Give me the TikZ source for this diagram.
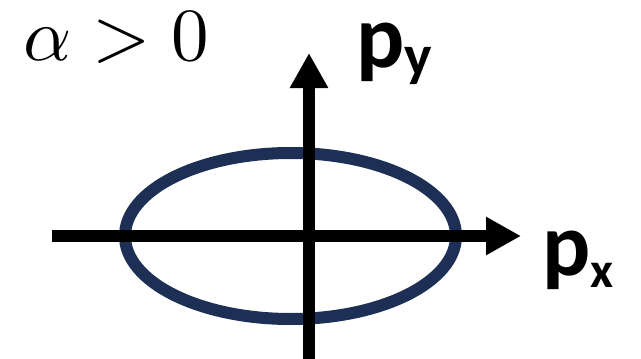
\documentclass[tikz,border=0pt]{standalone}
\usepackage{fontspec}
\newfontfamily\labelfont{Carlito}
\usetikzlibrary{arrows.meta}
\definecolor{navy}{RGB}{29,47,84}

\begin{document}
\begin{tikzpicture}[x=1pt,y=-1pt,
  axis/.style={line width=12pt,-{Triangle[length=35pt,width=36pt]}},
  lbl/.style={inner sep=0pt,anchor=base west}]
\useasboundingbox (0,0) rectangle (641,359);
\coordinate (xl) at (52,236);
\coordinate (xr) at (521,236);
\coordinate (yb) at (309,359);
\coordinate (yt) at (309,53);
\draw[navy,line width=12pt] (290.5,236) ellipse [x radius=165.5pt,y radius=83pt];
\draw[axis] (xl) -- (xr);
\draw[axis] (yb) -- (yt);
\node[lbl] (alpha) at (23,60) {\scalebox{7.5}{$\alpha>0$}};
\node[lbl] (py) at (356,67) {\labelfont\bfseries\fontsize{90}{100}\selectfont p\raisebox{-8pt}{\fontsize{58}{60}\selectfont y}};
\node[lbl] (px) at (542,275) {\labelfont\bfseries\fontsize{90}{100}\selectfont p\raisebox{-12pt}{\fontsize{50}{60}\selectfont x}};
\end{tikzpicture}
\end{document}
